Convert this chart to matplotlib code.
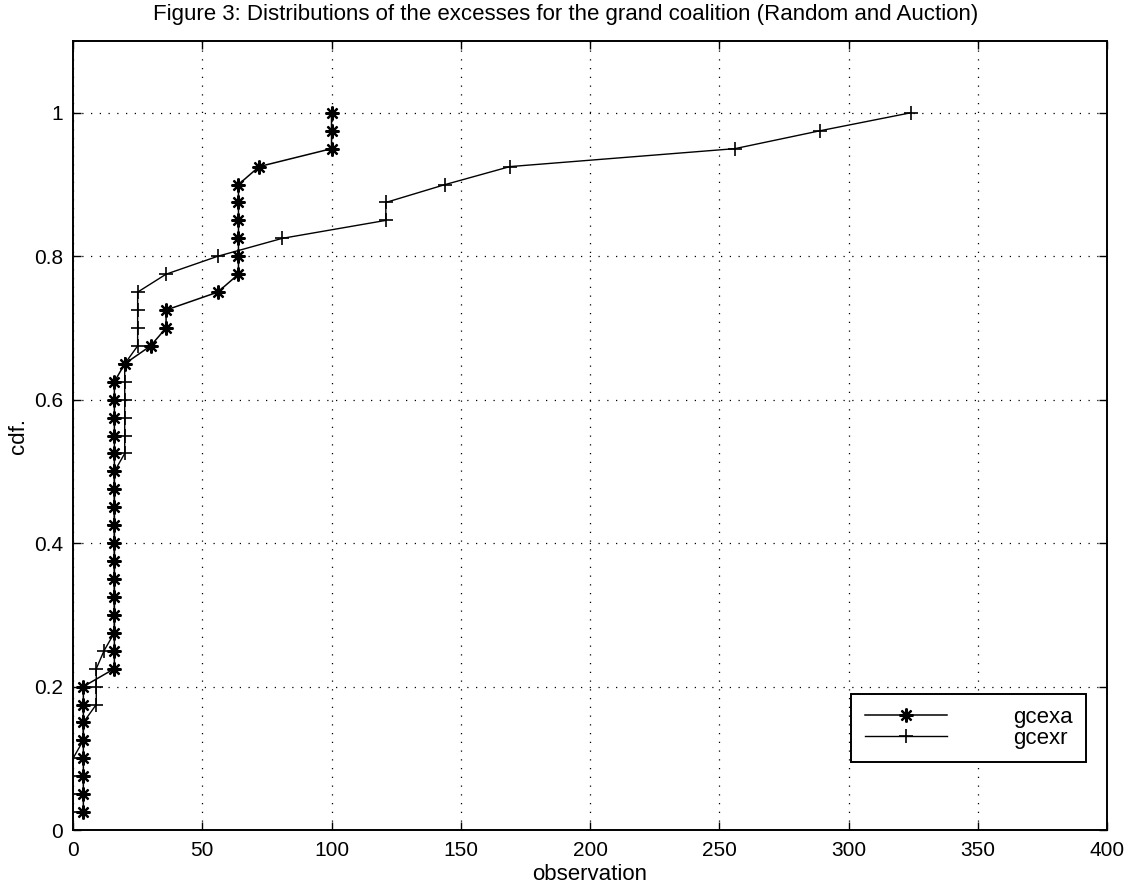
import numpy as np
import matplotlib
matplotlib.use("Agg")
import matplotlib.pyplot as plt

plt.rcParams['font.family'] = ['Liberation Sans', 'DejaVu Sans']

# cdf levels: 40 observations each
cdf_levels = [0.025 * (i + 1) for i in range(40)]

gcexa = [4, 4, 4, 4, 4, 4, 4, 4,
         16, 16, 16, 16, 16, 16, 16, 16, 16, 16, 16, 16, 16, 16, 16, 16, 16,
         20, 30, 36, 36, 56,
         64, 64, 64, 64, 64, 64,
         72, 100, 100, 100]

gcexr = [0, 0, 0, 0, 4, 4, 9, 9, 9, 12,
         16, 16, 16, 16, 16, 16, 16, 16, 16, 16,
         20, 20, 20, 20, 20, 20,
         25, 25, 25, 25,
         36, 56, 81, 121, 121, 144, 169, 256, 289, 324]

x_ticks = [0, 50, 100, 150, 200, 250, 300, 350, 400]
y_ticks = [0, 0.2, 0.4, 0.6, 0.8, 1]
y_ticklabels = ['0', '0.2', '0.4', '0.6', '0.8', '1']


def main():
    fig = plt.figure(figsize=(11.32, 8.93), dpi=100)
    ax = fig.add_axes([0.0645, 0.0705, 0.9135, 0.8835])

    asterisk = (8, 2, 0)
    ax.plot(gcexa, cdf_levels, color='black', lw=1.1, marker=asterisk,
            markersize=10, markeredgewidth=1.6, label='gcexa')
    ax.plot(gcexr, cdf_levels, color='black', lw=1.0, marker='+',
            markersize=10, markeredgewidth=1.2, label='gcexr')

    ax.set_xlim(0, 400)
    ax.set_ylim(0, 1.1)
    ax.set_xticks(x_ticks)
    ax.set_yticks(y_ticks)
    ax.set_yticklabels(y_ticklabels)
    ax.tick_params(direction='in', length=6, width=1, top=True, right=True,
                   labelsize=15)
    ax.tick_params(axis='y', pad=7)
    ax.tick_params(axis='x', pad=8)
    for sp in ax.spines.values():
        sp.set_linewidth(1.4)

    ax.grid(True, color='black', linestyle=(0, (1, 6)), linewidth=0.9)

    ax.set_xlabel('observation', fontsize=16, labelpad=3)
    ax.set_ylabel('cdf.', fontsize=16, labelpad=4)
    # title is centred on the figure, not the axes
    fig.suptitle('Figure 3: Distributions of the excesses for the grand coalition (Random and Auction)',
                 x=0.5, y=0.995, va='top', fontsize=16)

    leg = ax.legend(loc='lower right', bbox_to_anchor=(0.98, 0.086),
                    borderaxespad=0, fontsize=16, handlelength=3.7,
                    handletextpad=3.0, borderpad=0.6, labelspacing=0.0,
                    fancybox=False, framealpha=1, edgecolor='black')
    leg.get_frame().set_linewidth(1.4)

    fig.savefig('out.png', dpi=100)


if __name__ == "__main__":
    main()
